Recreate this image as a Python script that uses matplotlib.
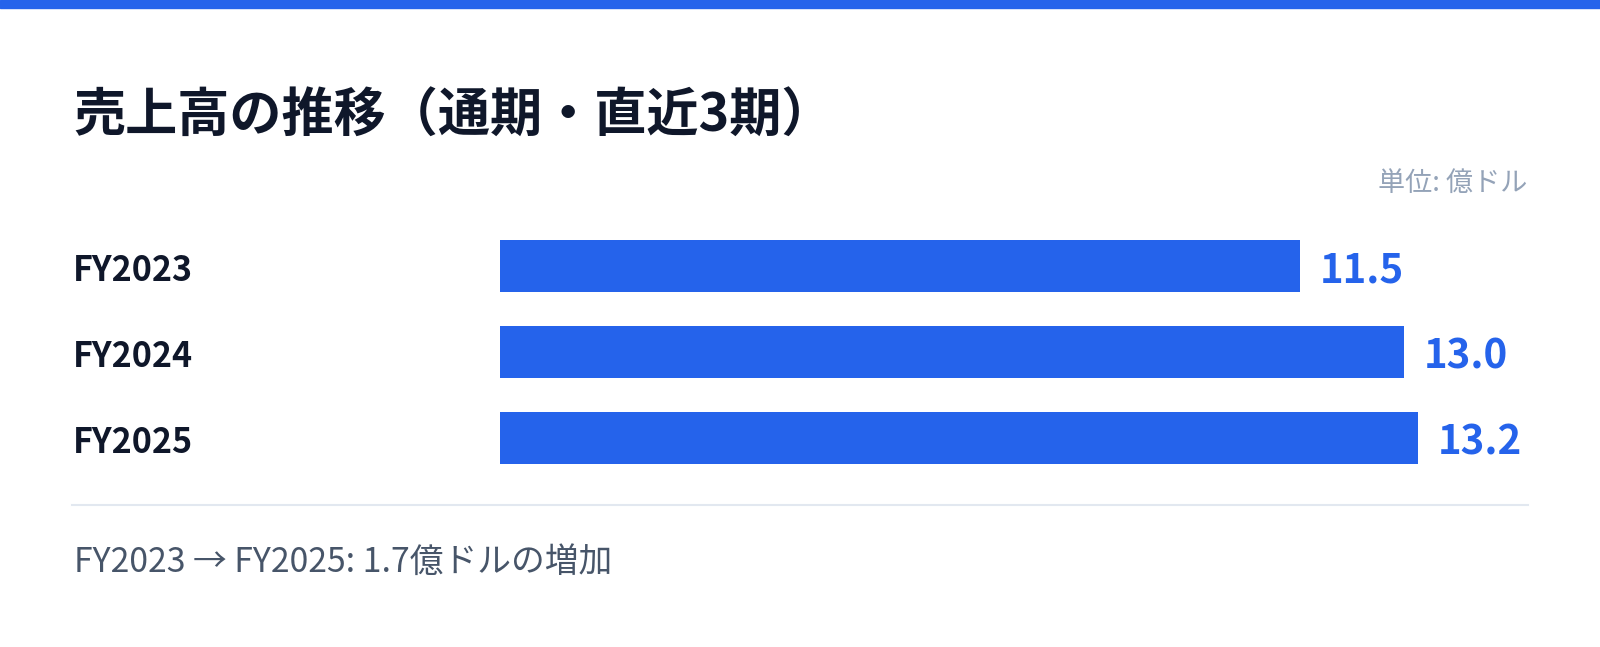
import matplotlib
matplotlib.use('Agg')
import matplotlib.pyplot as plt
import matplotlib.transforms as mtransforms

plt.rcParams['font.family'] = ['Noto Sans CJK JP', 'DejaVu Sans']

# data (億ドル)
years = ['FY2023', 'FY2024', 'FY2025']
sales = [11.5, 13.0, 13.2]

title = '売上高の推移（通期・直近3期）'
unit_label = '単位: 億ドル'

BLUE = '#2563eb'
DARK = '#0f172a'

W, H = 1600, 647
fig = plt.figure(figsize=(W / 100, H / 100), dpi=100)
fig.patch.set_facecolor('white')


def fx(px):
    return px / W


def fy(py):
    # pixel from top -> figure fraction from bottom
    return 1 - py / H


# top accent band
fig.patches.append(plt.Rectangle((0, fy(8)), 1, 8 / H, transform=fig.transFigure,
                                 color=BLUE, zorder=0))

fig.text(fx(73), fy(116), title, fontsize=37.5, fontweight='bold', color=DARK,
         ha='left', va='center')
fig.text(fx(1527), fy(183), unit_label, fontsize=19.5, color='#94a3b8',
         ha='right', va='center')

# bar area
ax_left, ax_right = 500, 1528
ax_top, ax_bot = 223, 481
ax = fig.add_axes([fx(ax_left), fy(ax_bot), (ax_right - ax_left) / W, (ax_bot - ax_top) / H])
ax.set_xlim(0, (ax_right - ax_left) / 69.57)
ax.set_ylim(len(years) - 0.5, -0.5)
ax.axis('off')

ypos = list(range(len(years)))
ax.barh(ypos, sales, height=52 / 86, color=BLUE)

trans = mtransforms.blended_transform_factory(fig.transFigure, ax.transData)
for i, (yr, v) in enumerate(zip(years, sales)):
    ax.annotate(yr, xy=(fx(73), i), xycoords=trans, xytext=(0, -3.5),
                textcoords='offset points', fontsize=24.5, fontweight='bold',
                color=DARK, ha='left', va='center')
    ax.annotate(f'{v:.1f}', xy=(v, i), xytext=(14, -3.5), textcoords='offset points',
                fontsize=29, fontweight='bold', color=BLUE, ha='left', va='center')

# separator + footer note
fig.add_artist(plt.Line2D([fx(72), fx(1528)], [fy(505), fy(505)], color='#e2e8f0', lw=1.5))
diff = sales[-1] - sales[0]
fig.text(fx(74), fy(562), f'{years[0]} → {years[-1]}: {diff:.1f}億ドルの増加',
         fontsize=24.3, color='#475569', ha='left', va='center')

fig.savefig('out.png', dpi=100, facecolor='white')
